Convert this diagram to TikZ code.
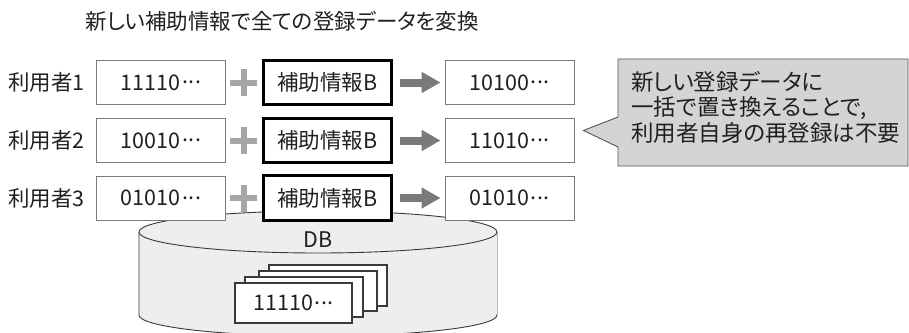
\documentclass[tikz,border=0pt]{standalone}
\usepackage{fontspec}
\setmainfont{Noto Sans CJK JP}[RawFeature=+palt]
\usetikzlibrary{arrows.meta,calc}
\newcommand{\tdots}{\raisebox{0.3em}{\makebox[0.95em][s]{\hspace{0.08em}.\hfil.\hfil.}}}
\definecolor{boxgray}{HTML}{7A7A7A}
\definecolor{plusgray}{HTML}{A6A6A6}
\definecolor{arrowgray}{HTML}{7A7A7A}
\definecolor{dbfill}{HTML}{EEEEEE}
\definecolor{dbline}{HTML}{3A3A3A}
\definecolor{callfill}{HTML}{D4D4D4}
\definecolor{callline}{HTML}{555555}
\definecolor{txt}{HTML}{231F20}
\tikzset{
  txtfont/.style={font=\fontsize{21.5}{24}\selectfont, text=txt},
  databox/.style={txtfont, draw=boxgray, line width=0.9pt, fill=white,
    minimum width=129pt, minimum height=44pt, inner sep=0pt},
  keybox/.style={databox, draw=black, line width=2.6pt,
    minimum width=128.5pt, minimum height=44.5pt},
  userlabel/.style={txtfont, anchor=west, inner sep=0pt},
  bigarrow/.style={draw=arrowgray, line width=8pt,
    -{Triangle[length=19pt,width=20pt]}, shorten <=7pt, shorten >=4pt},
  plusbar/.style={fill=plusgray},
  card/.style={draw=dbline, line width=1.2pt, fill=white},
}
\begin{document}
\begin{tikzpicture}[x=1pt,y=-1pt]
\useasboundingbox (0,0) rectangle (909,332);

% title
\node[txtfont, anchor=west, inner sep=0pt] (title) at (85,21) {新しい補助情報で全ての登録データを変換};

% database cylinder
\path[fill=dbfill, draw=dbline, line width=0.9pt]
  (139,232) -- (139,315)
  .. controls (139,326.6) and (219.1,336) .. (318,336)
  .. controls (416.9,336) and (497,326.6) .. (497,315)
  -- (497,232);
\fill[dbfill] (139.5,232) rectangle (496.5,314);
\draw[fill=dbfill, draw=dbline, line width=0.9pt] (318,232) ellipse [x radius=179, y radius=21];
\node[txtfont] (db) at (318,240) {DB};

% stacked records
\draw[card] (269,265) rectangle (387,306);
\draw[card] (259,271) rectangle (377,311);
\draw[card] (245,277) rectangle (363,317);
\node[card, txtfont, minimum width=117pt, minimum height=40pt, inner sep=0pt] (rec) at (293.5,303) {11110\tdots};

% rows
\foreach \i/\y/\a/\b in {1/82.5/11110/10100, 2/140.5/10010/11010, 3/198/01010/01010}{
  \node[userlabel] (u\i) at (8,\y) {利用者\i};
  \node[databox] (d\i) at (161,\y) {\a\tdots};
  \node[keybox] (h\i) at (327.5,\y) {補助情報B};
  \node[databox] (r\i) at (509.5,\y) {\b\tdots};
  \path (d\i.east) -- (h\i.west) coordinate[midway] (p\i);
  \fill[plusbar] ($(p\i)+(-13.5,-3)$) rectangle ($(p\i)+(13.5,3)$);
  \fill[plusbar] ($(p\i)+(-3,-13.5)$) rectangle ($(p\i)+(3,13.5)$);
  \draw[bigarrow] (h\i.east) -- (r\i.west);
}

% callout
\coordinate (tip) at ($(r2.east)+(9,-10)$);
\draw[fill=callfill, draw=callline, line width=0.9pt]
  (618,59) -- (908,59) -- (908,166) -- (618,166) -- (618,147) -- (tip) -- (618,117) -- cycle;
\node[font=\fontsize{22.5}{25.5}\selectfont, text=txt, anchor=west, align=left, inner sep=0pt] (note) at (631,107)
  {新しい登録データに\\一括で置き換えることで,\\利用者自身の再登録は不要};
\end{tikzpicture}
\end{document}
